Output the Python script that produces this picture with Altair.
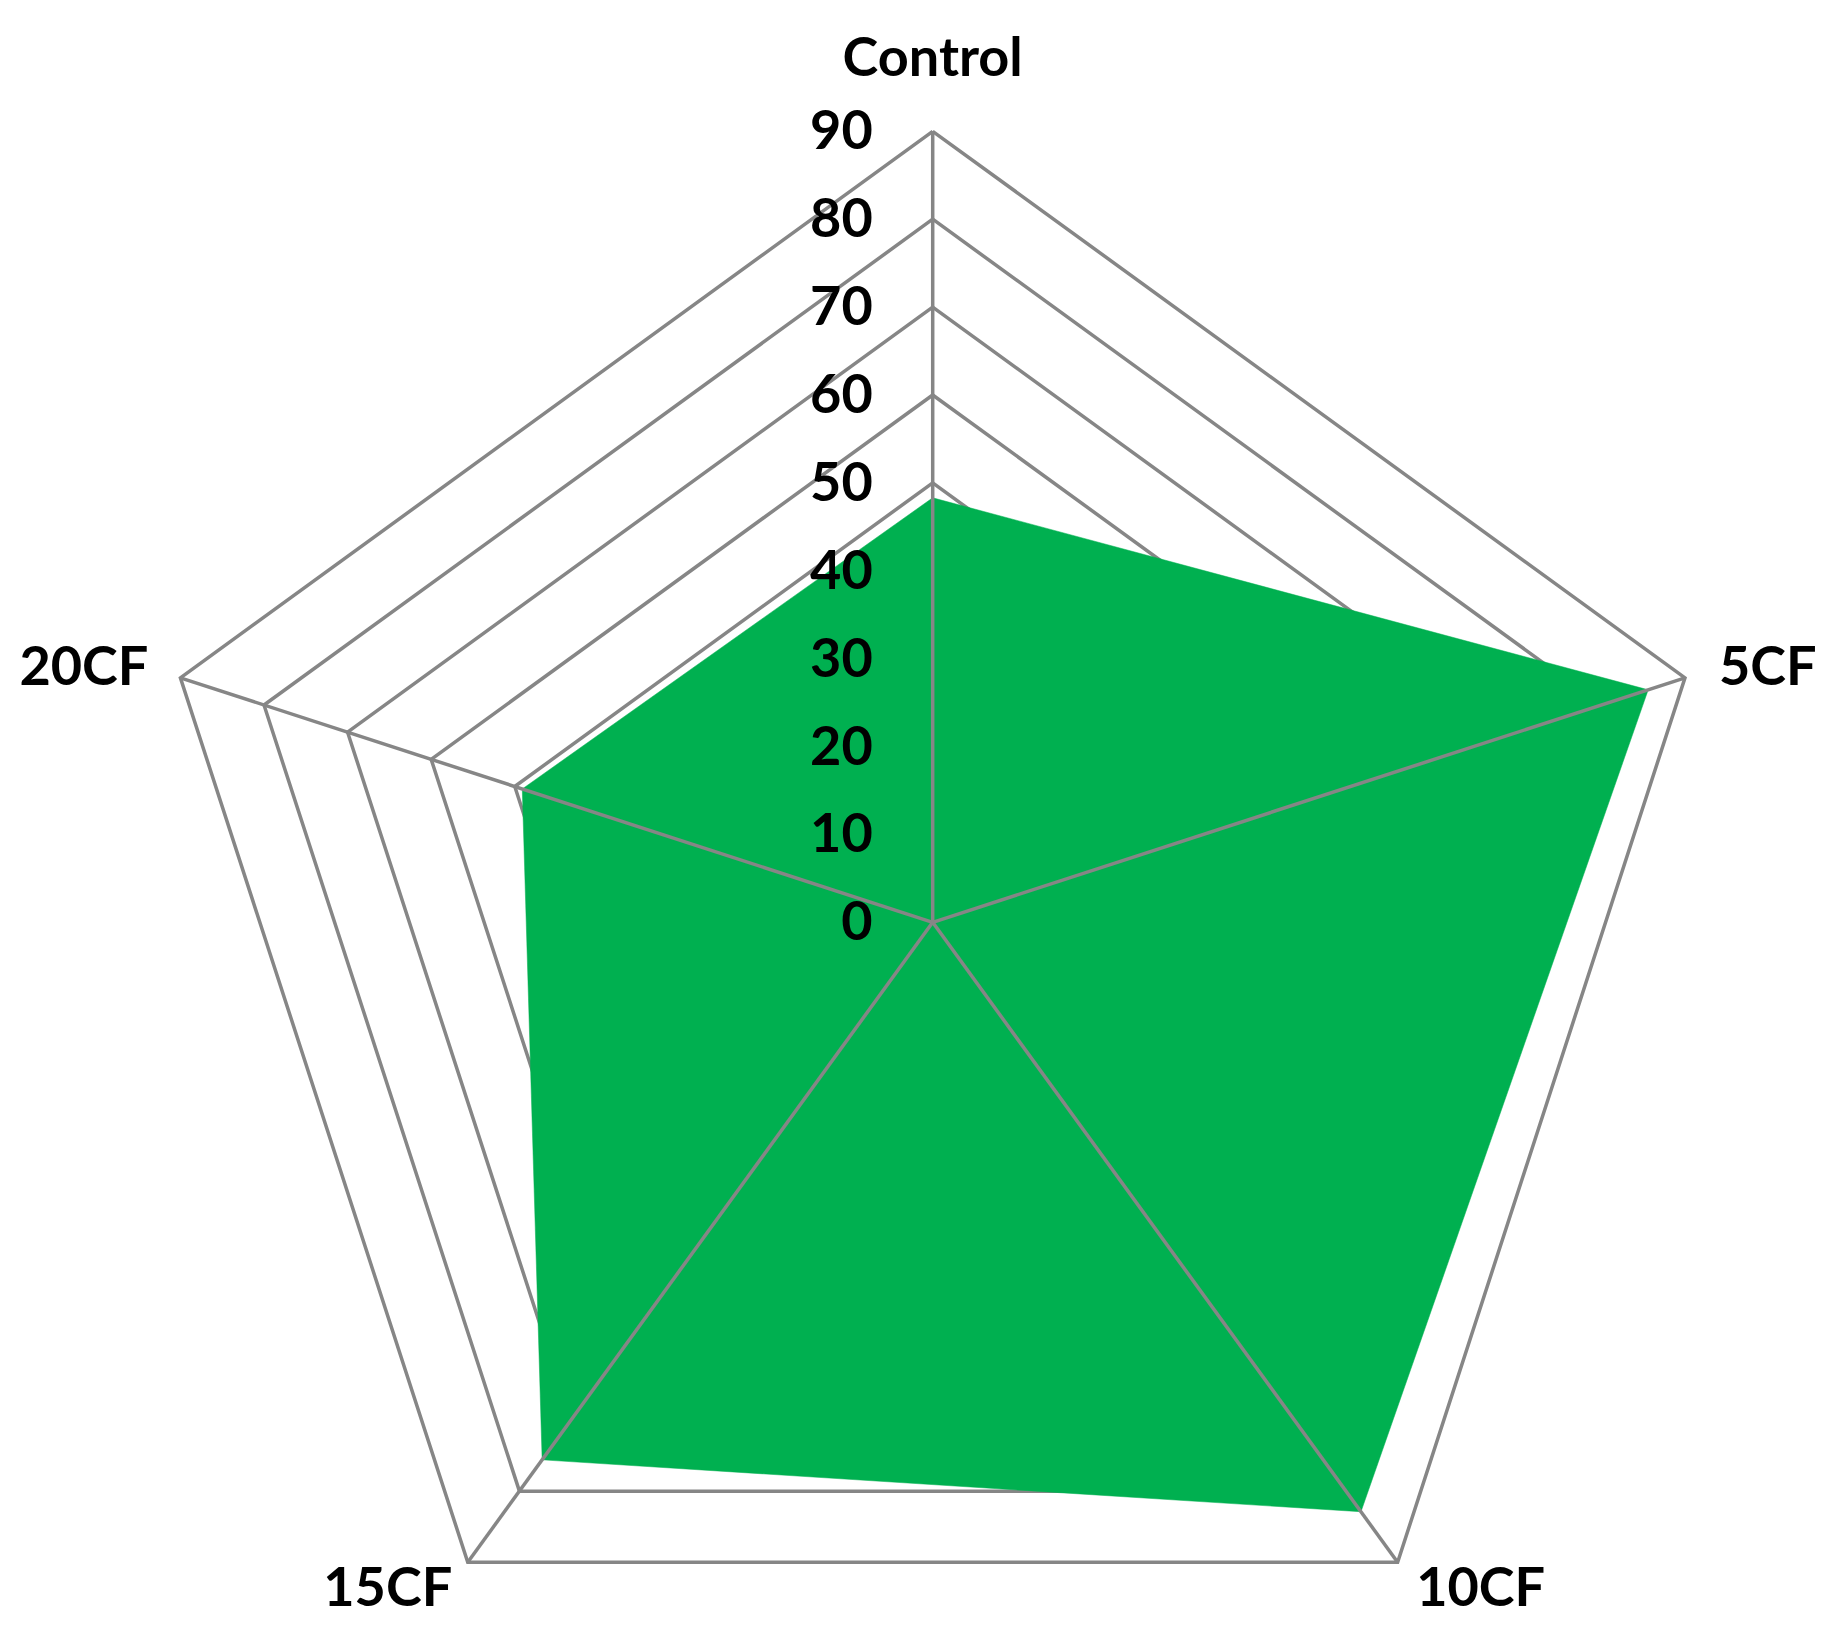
import altair as alt
import pandas as pd

categories = ["Control", "5CF", "10CF", "15CF", "20CF"]
values = [48.3, 85.6, 82.9, 75.6, 49.1]
grid_levels = [10, 20, 30, 40, 50, 60, 70, 80, 90]
tick_values = [0, 10, 20, 30, 40, 50, 60, 70, 80, 90]
tick_labels = ["0", "10", "20", "30", "40", "50", "60", "70", "80", "90"]
r_max = 90

n = len(categories)

series = pd.DataFrame({
    "category": categories + [categories[0]],
    "idx": list(range(n)) + [n],
    "r": values + [values[0]],
})
grid = pd.DataFrame([
    {"level": L, "idx": i, "r": L} for L in grid_levels for i in range(n + 1)
])
spokes = pd.DataFrame({"category": categories, "idx": list(range(n)), "r": [r_max] * n})
ticks = pd.DataFrame({"label": tick_labels, "value": tick_values})

# layout
W, H = 1820, 1615
cx, cy = 924.7, 914.3
k = 791.0 / r_max
xdom = [-cx / k, (W - cx) / k]
ydom = [-(H - cy) / k, cy / k]

ang = f"(PI/2 - datum.idx*2*PI/{n})"
calc_x = f"datum.r*cos({ang})"
calc_y = f"datum.r*sin({ang})"

xs = alt.Scale(domain=xdom, nice=False, zero=False)
ys = alt.Scale(domain=ydom, nice=False, zero=False)

GRAY = "#868686"
GREEN = "#00B050"
FONT = "Lato"
LW = 3.5

def X(f):
    return alt.X(f"{f}:Q", scale=xs, axis=None)

def Y(f):
    return alt.Y(f"{f}:Q", scale=ys, axis=None)

gridlayer = alt.Chart(grid).transform_calculate(x=calc_x, y=calc_y).mark_line(
    color=GRAY, strokeWidth=LW
).encode(x=X("x"), y=Y("y"), detail="level:N", order="idx:Q")

filllayer = alt.Chart(series).transform_calculate(x=calc_x, y=calc_y).mark_line(
    fill=GREEN, stroke=GREEN, strokeWidth=0.5
).encode(x=X("x"), y=Y("y"), order="idx:Q")

spokelayer = alt.Chart(spokes).transform_calculate(
    x=calc_x, y=calc_y, x0="0", y0="0"
).mark_rule(color=GRAY, strokeWidth=LW).encode(
    x=X("x0"), y=Y("y0"), x2="x:Q", y2="y:Q"
)

ticklayer = alt.Chart(ticks).transform_calculate(x0="0").mark_text(
    font=FONT, fontWeight="bold", fontSize=54, align="right", baseline="middle",
    dx=-60, dy=2, color="black"
).encode(x=X("x0"), y=Y("value"), text="label:N")

label_specs = {
    "Control": dict(align="center", dx=0, dy=-71),
    "5CF": dict(align="left", dx=34, dy=-9),
    "10CF": dict(align="center", dx=83, dy=28),
    "15CF": dict(align="center", dx=-80, dy=28),
    "20CF": dict(align="right", dx=-32, dy=-9),
}
label_layers = []
for cat in categories:
    spec = label_specs[cat]
    label_layers.append(
        alt.Chart(spokes).transform_filter(alt.datum.category == cat)
        .transform_calculate(x=calc_x, y=calc_y)
        .mark_text(font=FONT, fontWeight="bold", fontSize=54, baseline="middle",
                   color="black", **spec)
        .encode(x=X("x"), y=Y("y"), text="category:N")
    )

chart = alt.layer(gridlayer, filllayer, spokelayer, ticklayer, *label_layers).properties(
    width=W, height=H, autosize=alt.AutoSizeParams(type="none"), padding=0
).configure_view(stroke=None).resolve_scale(x="shared", y="shared")

chart.save("out.html", embed_options={"renderer": "svg", "actions": False})
